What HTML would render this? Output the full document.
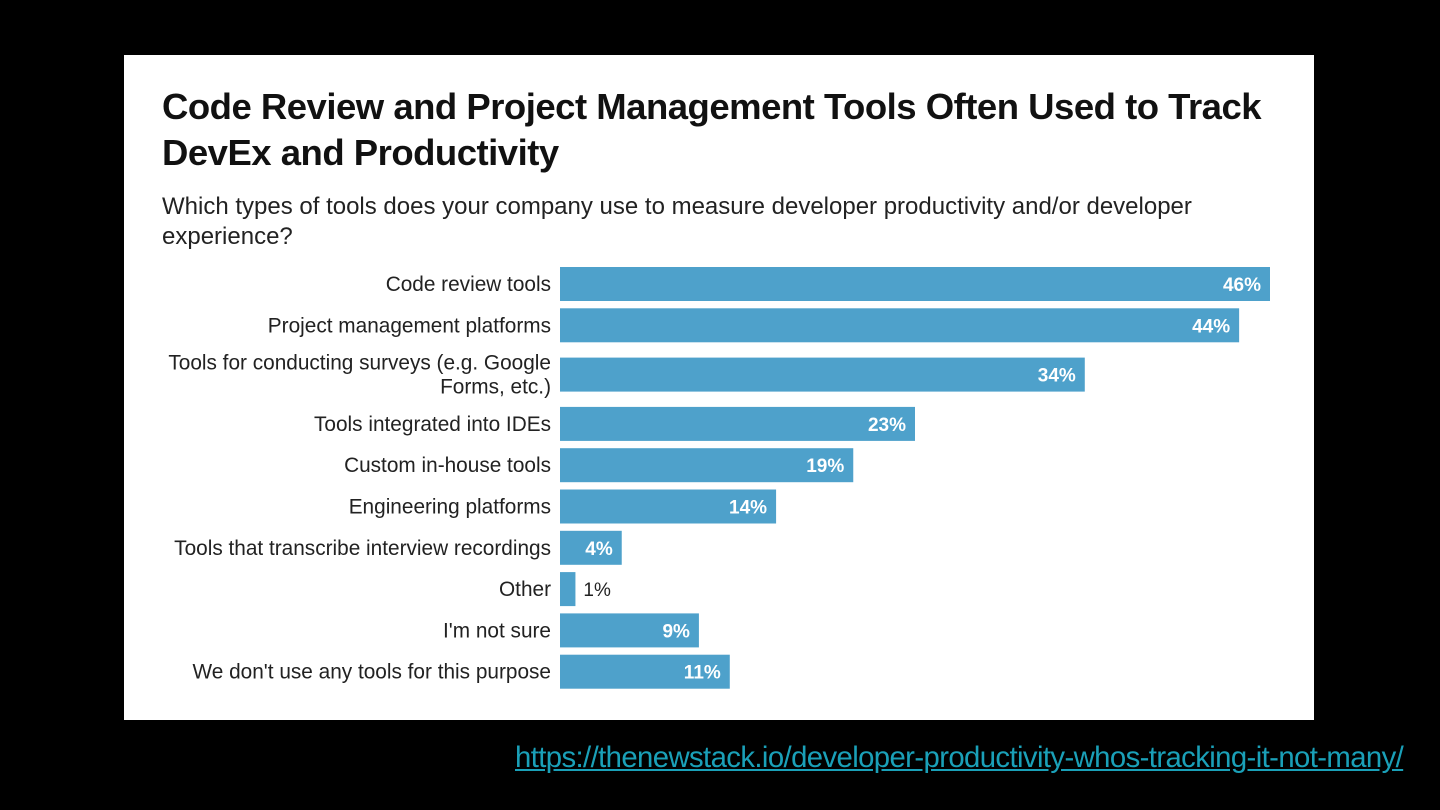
<!DOCTYPE html>
<html><head><meta charset="utf-8"><style>
html,body{margin:0;padding:0;background:#000;width:1440px;height:810px;overflow:hidden;font-family:"Liberation Sans",sans-serif}
#panel{position:absolute;left:124px;top:55px;width:1190px;height:665px;background:#fff}
#link{position:absolute;left:515px;top:741px;font-size:29.3px;color:#1aa0b8;text-decoration:underline;letter-spacing:-0.6px;white-space:nowrap}
</style></head><body>
<div id="panel"></div>
<svg width="1440" height="810" style="position:absolute;left:0;top:0">
<text x="162" y="119" font-size="36.5" font-weight="bold" fill="#111" letter-spacing="-0.5">Code Review and Project Management Tools Often Used to Track</text>
<text x="162" y="165" font-size="36.5" font-weight="bold" fill="#111" letter-spacing="-0.5">DevEx and Productivity</text>
<text x="162" y="214" font-size="24" fill="#222">Which types of tools does your company use to measure developer productivity and/or developer</text>
<text x="162" y="244" font-size="24" fill="#222">experience?</text>
<g id="bars"></g>
</svg>
<a id="link">https://thenewstack.io/developer-productivity-whos-tracking-it-not-many/</a>
<script>
const categories = [["Code review tools"],["Project management platforms"],["Tools for conducting surveys (e.g. Google","Forms, etc.)"],["Tools integrated into IDEs"],["Custom in-house tools"],["Engineering platforms"],["Tools that transcribe interview recordings"],["Other"],["I'm not sure"],["We don't use any tools for this purpose"]];
const values = [46,44,34,23,19,14,4,1,9,11];
const NS="http://www.w3.org/2000/svg";
const g=document.getElementById('bars');
const x0=560, pxPer=710/46, bh=34;
function xs(v){return x0+v*pxPer;}
function ys(i){let extra=0;for(let k=0;k<i;k++){extra+= (categories[k].length>1?16:0);}return 267+i*41.3+(i>=2&&categories[i].length>1?8:extra);}
function mk(t,a){const e=document.createElementNS(NS,t);for(const k in a)e.setAttribute(k,a[k]);return e;}
values.forEach((v,i)=>{
  const y=ys(i);
  const r=mk('rect',{x:x0,y:y,width:xs(v)-x0,height:bh,fill:'#4ea1cb'});
  
  
  g.appendChild(r);
  const lines=categories[i];
  lines.forEach((ln,j)=>{
    const t=mk('text',{x:551,y:y+bh/2+7+(lines.length>1?(j-0.5)*24:0),'font-size':20.8,fill:'#222','text-anchor':'end'});
    t.textContent=ln;
    
    
    g.appendChild(t);
  });
  const inside=(xs(v)-x0)>45;
  const vt=mk('text',{x:inside?xs(v)-9:xs(v)+8,y:y+bh/2+7,'font-size':19,fill:inside?'#fff':'#222','text-anchor':inside?'end':'start','font-weight':inside?'bold':'normal'});
  vt.textContent=v+'%';
  
  
  g.appendChild(vt);
});
</script>
</body></html>
